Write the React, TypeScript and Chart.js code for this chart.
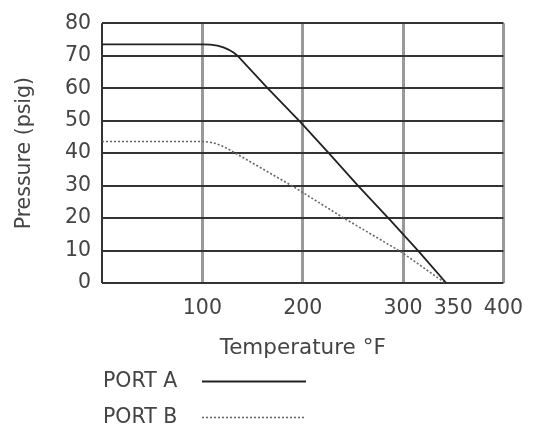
import React, { useEffect, useRef } from "react";
import { Chart, registerables } from "chart.js";

Chart.register(...registerables);

// Temperature (°F) and pressure (psig)
const portATemps = [0, 100, 108, 115, 121, 126, 131, 135, 165, 197.5, 226, 255, 286.5, 316, 343];
const portAPressure = [73.5, 73.5, 73.4, 73.1, 72.6, 71.9, 71.0, 70, 60, 49.6, 40, 30, 19.6, 9.6, 0];
const portBTemps = [0, 100, 107, 113, 119, 125, 133, 189, 242, 298, 342];
const portBPressure = [43.6, 43.6, 43.4, 43.0, 42.3, 41.4, 40, 30, 19.8, 9.6, 0];
const xTickValues = [0, 100, 200, 300, 350, 400];
const legendLabels = ["PORT A", "PORT B"];

const FONT = "'DejaVu Sans', sans-serif";
const TEXT = "#444";

const legendPlugin = {
  id: "sideLegend",
  afterDraw(chart: any) {
    const ctx = chart.ctx;
    ctx.save();
    ctx.font = `20.5px ${FONT}`;
    ctx.fillStyle = TEXT;
    ctx.textBaseline = "middle";
    ctx.textAlign = "left";
    const rows = [382, 418];
    chart.data.datasets.forEach((ds: any, i: number) => {
      const y = rows[i];
      ctx.fillText(legendLabels[i], 103, y);
      ctx.beginPath();
      ctx.strokeStyle = ds.borderColor;
      ctx.lineWidth = ds.borderWidth;
      ctx.setLineDash(ds.borderDash || []);
      ctx.moveTo(202, y - 0.5);
      ctx.lineTo(306, y - 0.5);
      ctx.stroke();
    });
    ctx.restore();
  },
};

export default function App() {
  const ref = useRef<HTMLCanvasElement | null>(null);
  useEffect(() => {
    const canvas = ref.current!;
    const chart = new Chart(canvas, {
      type: "line",
      data: {
        datasets: [
          {
            label: legendLabels[0],
            data: portATemps.map((x, i) => ({ x, y: portAPressure[i] })),
            borderColor: "#222",
            borderWidth: 1.8,
            pointRadius: 0,
          },
          {
            label: legendLabels[1],
            data: portBTemps.map((x, i) => ({ x, y: portBPressure[i] })),
            borderColor: "#666",
            borderWidth: 1.6,
            borderDash: [2, 2],
            pointRadius: 0,
          },
        ],
      },
      options: {
        animation: false,
        responsive: true,
        maintainAspectRatio: false,
        devicePixelRatio: 1,
        layout: { padding: { top: 16, right: 29, left: 0, bottom: 0 } },
        plugins: { legend: { display: false }, tooltip: { enabled: false } },
        scales: {
          x: {
            type: "linear",
            min: 0,
            max: 400,
            afterBuildTicks: (scale: any) => {
              scale.ticks = xTickValues.map((value) => ({ value }));
            },
            afterFit: (scale: any) => {
              scale.height = 148;
            },
            ticks: {
              autoSkip: false,
              maxRotation: 0,
              padding: 13,
              color: TEXT,
              font: { family: FONT, size: 20.5 },
              callback: (v: any) => (v === 0 ? "" : String(v)),
            },
            grid: {
              drawTicks: false,
              color: (c: any) =>
                c.tick && c.tick.value === 350
                  ? "rgba(0,0,0,0)"
                  : c.tick && c.tick.value === 0
                  ? "#333"
                  : "#999",
              lineWidth: (c: any) => (c.tick && c.tick.value === 0 ? 2 : 3),
            },
            border: { display: false },
            title: {
              display: true,
              text: "Temperature °F",
              color: TEXT,
              font: { family: FONT, size: 21.5 },
              padding: { top: 0, bottom: 70 },
            },
          },
          y: {
            min: 0,
            max: 80,
            afterFit: (scale: any) => {
              scale.width = 102;
            },
            ticks: {
              stepSize: 10,
              padding: 11,
              color: TEXT,
              font: { family: FONT, size: 20.5 },
            },
            grid: { drawTicks: false, color: "#333", lineWidth: 2 },
            border: { display: false },
            title: {
              display: true,
              text: "Pressure (psig)",
              color: TEXT,
              font: { family: FONT, size: 20.5 },
              padding: { top: 12, bottom: 0 },
            },
          },
        },
      },
      plugins: [legendPlugin],
    } as any);
    return () => chart.destroy();
  }, []);
  return (
    <div style={{ position: "fixed", left: 0, top: 0, width: 536, height: 431, background: "#fff" }}>
      <canvas ref={ref} />
    </div>
  );
}
